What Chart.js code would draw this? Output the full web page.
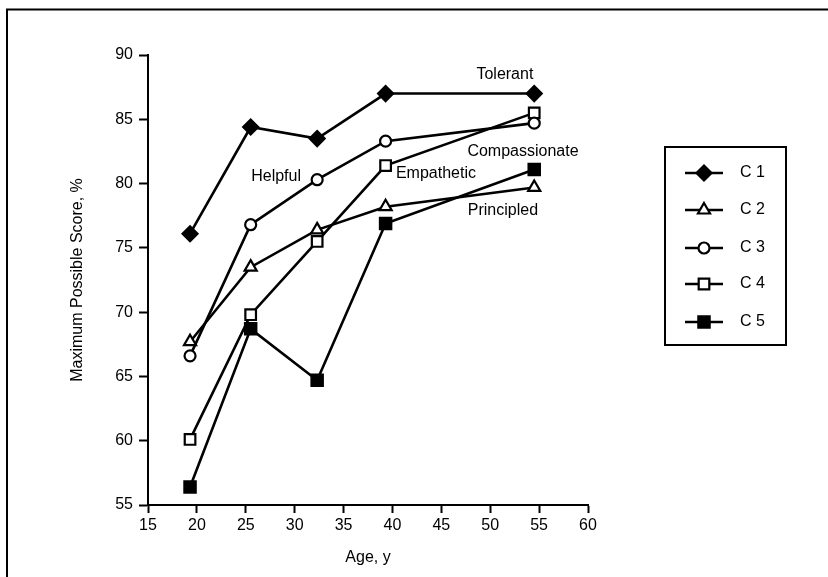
<!DOCTYPE html>
<html>
<head>
<meta charset="utf-8">
<script src="https://cdn.jsdelivr.net/npm/chart.js@4/dist/chart.umd.min.js"></script>
<style>
  html, body { margin: 0; padding: 0; background: #fff; }
  #wrap { width: 828px; height: 577px; position: relative; }
</style>
</head>
<body>
<div id="wrap"><canvas id="chart"></canvas></div>
<script>
// Возрастные группы (ось X) и значения пяти рядов
const ages = [19.3, 25.5, 32.3, 39.3, 54.5];
const seriesNames = ['C 1', 'C 2', 'C 3', 'C 4', 'C 5'];
const c1 = [76.1, 84.4, 83.5, 87.0, 87.0];
const c2 = [67.7, 73.5, 76.4, 78.2, 79.7];
const c3 = [66.6, 76.8, 80.3, 83.3, 84.7];
const c4 = [60.1, 69.8, 75.5, 81.4, 85.5];
const c5 = [56.4, 68.7, 64.7, 76.9, 81.1];
const xTicks = [15, 20, 25, 30, 35, 40, 45, 50, 55, 60];
const yTicks = [55, 60, 65, 70, 75, 80, 85, 90];

// Подписи на поле графика: текст + точка привязки в координатах данных
const notes = [
  { text: 'Tolerant', x: 51.5, y: 88.45 },
  { text: 'Helpful', x: 28.1, y: 80.55 },
  { text: 'Empathetic', x: 44.45, y: 80.75 },
  { text: 'Compassionate', x: 53.35, y: 82.5 },
  { text: 'Principled', x: 51.3, y: 77.9 },
];

const FONT = "'Liberation Sans', Arial, sans-serif";

// Стиль маркеров — по порядку рядов
const markers = [
  { style: 'rectRot', radius: 7.5, fill: '#000' },
  { style: 'triangle', radius: 7, fill: '#fff' },
  { style: 'circle', radius: 5.5, fill: '#fff' },
  { style: 'rect', radius: 7.5, fill: '#fff' },
  { style: 'rect', radius: 8, fill: '#000' },
];

const allSeries = [c1, c2, c3, c4, c5];

const datasets = allSeries.map((vals, i) => ({
  label: seriesNames[i],
  data: vals.map((v, j) => ({ x: ages[j], y: v })),
  borderColor: '#000',
  borderWidth: 2.6,
  pointStyle: markers[i].style,
  pointRadius: markers[i].radius,
  pointBackgroundColor: markers[i].fill,
  pointBorderColor: '#000',
  pointBorderWidth: 2.2,
  tension: 0,
  fill: false,
}));

// Рамка страницы, подписи рядов и легенда в рамке справа
const decor = {
  id: 'decor',
  beforeDraw(chart) {
    const ctx = chart.ctx;
    ctx.save();
    ctx.fillStyle = '#fff';
    ctx.fillRect(0, 0, chart.width, chart.height);
    ctx.strokeStyle = '#000';
    ctx.lineWidth = 2;
    ctx.beginPath();
    ctx.moveTo(7, chart.height);
    ctx.lineTo(7, 9.5);
    ctx.lineTo(chart.width, 9.5);
    ctx.stroke();
    ctx.restore();
  },
  afterDraw(chart) {
    const ctx = chart.ctx;
    const xs = chart.scales.x, ys = chart.scales.y;
    ctx.save();
    ctx.fillStyle = '#000';
    ctx.font = '16px ' + FONT;
    ctx.textAlign = 'center';
    ctx.textBaseline = 'middle';
    for (const n of notes) {
      ctx.fillText(n.text, xs.getPixelForValue(n.x), ys.getPixelForValue(n.y));
    }

    // легенда
    const box = { left: 665, top: 147, right: 786, bottom: 345 };
    ctx.strokeStyle = '#000';
    ctx.lineWidth = 2;
    ctx.strokeRect(box.left, box.top, box.right - box.left, box.bottom - box.top);
    const rowY = [173, 210, 248, 284, 322];
    seriesNames.forEach((name, i) => {
      const y = rowY[i];
      ctx.lineWidth = 2.6;
      ctx.beginPath();
      ctx.moveTo(685, y);
      ctx.lineTo(723, y);
      ctx.stroke();
      ctx.fillStyle = markers[i].fill;
      ctx.lineWidth = 2.2;
      Chart.helpers.drawPoint(ctx, { pointStyle: markers[i].style, radius: markers[i].radius, borderWidth: 2.2 }, 704, y);
      ctx.fillStyle = '#000';
      ctx.textAlign = 'left';
      ctx.fillText(name, 740, y);
    });
    ctx.restore();
  },
};

new Chart(document.getElementById('chart'), {
  type: 'line',
  data: { datasets },
  plugins: [decor],
  options: {
    responsive: true,
    maintainAspectRatio: false,
    animation: false,
    layout: { padding: { left: 0, right: 240, top: 55, bottom: 0 } },
    plugins: { legend: { display: false }, tooltip: { enabled: false } },
    scales: {
      x: {
        type: 'linear',
        min: 15, max: 60,
        afterBuildTicks: (s) => { s.ticks = xTicks.map((v) => ({ value: v })); },
        afterFit: (s) => { s.height = 72; },
        border: { display: true, color: '#000', width: 2 },
        grid: { display: true, drawOnChartArea: false, drawTicks: true, tickLength: 8, tickWidth: 2, color: '#000' },
        ticks: { color: '#000', font: { family: FONT, size: 16 }, padding: 3, maxRotation: 0 },
        title: { display: true, text: 'Age, y', color: '#000', font: { family: FONT, size: 16 }, padding: { bottom: 10 } },
      },
      y: {
        min: 55, max: 90,
        afterBuildTicks: (s) => { s.ticks = yTicks.map((v) => ({ value: v })); },
        afterFit: (s) => { s.width = 148; },
        border: { display: true, color: '#000', width: 2 },
        grid: { display: true, drawOnChartArea: false, drawTicks: true, tickLength: 9, tickWidth: 2, color: '#000' },
        ticks: { color: '#000', font: { family: FONT, size: 16 }, padding: 6 },
        title: { display: true, text: 'Maximum Possible Score, %', color: '#000', font: { family: FONT, size: 16 }, padding: { top: 68 } },
      },
    },
  },
});
</script>
</body>
</html>
